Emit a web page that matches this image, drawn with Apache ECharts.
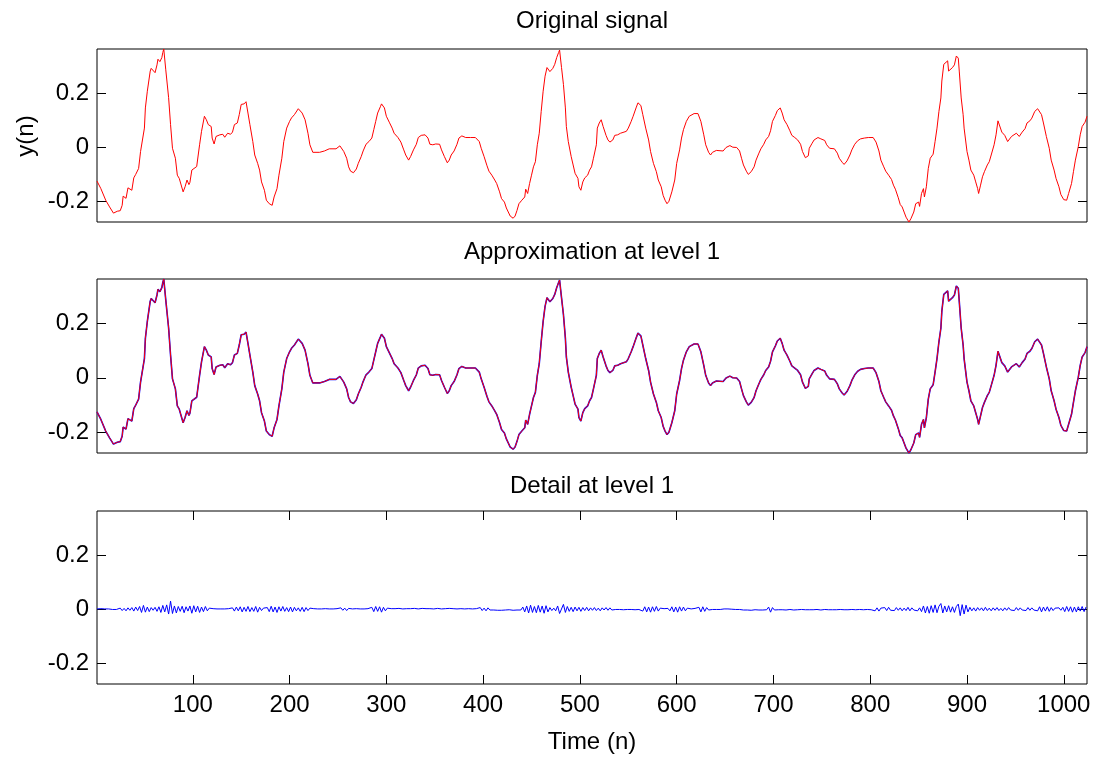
<!DOCTYPE html>
<html>
<head>
<meta charset="utf-8">
<title>Wavelet decomposition</title>
<script src="https://cdn.jsdelivr.net/npm/echarts@6/dist/echarts.min.js"></script>
<style>
  html, body { margin: 0; padding: 0; background: #fff; }
  #chart { width: 1098px; height: 759px; }
</style>
</head>
<body>
<div id="chart"></div>
<script>
// readings of the original signal: [sample n, y(n)]
const originalSignal = [
  [1,-0.126],[5,-0.154],[10,-0.197],[14,-0.222],[18,-0.245],[22,-0.238],[25,-0.236],[27,-0.216],[28,-0.182],[30,-0.188],
  [31,-0.19],[33,-0.151],[35,-0.144],[37,-0.16],[39,-0.114],[41,-0.101],[42,-0.101],[44,-0.079],[46,-0.016],[50,0.071],
  [51,0.146],[53,0.208],[56,0.283],[57,0.293],[59,0.292],[61,0.277],[63,0.306],[64,0.327],[66,0.318],[68,0.333],
  [69,0.352],[70,0.365],[72,0.29],[75,0.184],[77,0.084],[79,-0.004],[82,-0.041],[84,-0.104],[86,-0.116],[88,-0.122],
  [90,-0.166],[92,-0.147],[94,-0.122],[96,-0.139],[97,-0.131],[99,-0.085],[101,-0.079],[104,-0.072],[107,0.009],[109,0.059],
  [112,0.115],[114,0.102],[116,0.084],[119,0.077],[120,0.034],[122,0.012],[124,0.04],[126,0.043],[128,0.046],[131,0.048],
  [133,0.037],[136,0.052],[139,0.048],[141,0.056],[143,0.084],[146,0.09],[148,0.121],[150,0.159],[153,0.161],[155,0.169],
  [157,0.127],[159,0.084],[162,0.021],[164,-0.029],[167,-0.06],[169,-0.085],[171,-0.129],[174,-0.16],[176,-0.197],[179,-0.21],
  [182,-0.216],[184,-0.185],[187,-0.154],[189,-0.104],[192,-0.041],[194,0.021],[197,0.071],[200,0.096],[202,0.109],[205,0.121],
  [209,0.143],[213,0.127],[216,0.102],[219,0.052],[221,0.009],[224,-0.019],[226,-0.026],[231,-0.019],[236,-0.014],[241,-0.006],
  [248,-0.006],[252,0.005],[256,-0.016],[259,-0.041],[261,-0.073],[263,-0.089],[266,-0.095],[269,-0.081],[271,-0.06],[274,-0.035],
  [276,-0.014],[279,0.011],[282,0.021],[285,0.034],[287,0.065],[289,0.096],[291,0.127],[294,0.152],[295,0.161],[298,0.146],
  [300,0.115],[303,0.093],[306,0.071],[308,0.052],[312,0.036],[315,0.019],[318,-0.01],[320,-0.029],[323,-0.048],[325,-0.035],
  [328,-0.01],[331,0.011],[333,0.036],[336,0.044],[340,0.046],[343,0.034],[345,0.011],[348,0.009],[351,0.012],[355,0.011],
  [357,-0.01],[360,-0.035],[363,-0.058],[365,-0.048],[367,-0.029],[370,-0.014],[373,0.011],[375,0.034],[378,0.042],[382,0.036],
  [387,0.036],[389,0.042],[392,0.036],[394,0.039],[396,0.021],[398,-0.004],[401,-0.035],[404,-0.069],[406,-0.089],[409,-0.104],
  [412,-0.122],[414,-0.135],[417,-0.166],[419,-0.191],[422,-0.204],[424,-0.226],[426,-0.228],[428,-0.256],[431,-0.264],[433,-0.256],
  [435,-0.235],[437,-0.21],[440,-0.197],[443,-0.185],[444,-0.156],[446,-0.172],[448,-0.135],[450,-0.104],[452,-0.073],[454,-0.054],
  [456,0.009],[458,0.052],[460,0.133],[462,0.208],[464,0.264],[466,0.296],[468,0.298],[469,0.281],[472,0.293],[474,0.308],
  [476,0.333],[478,0.352],[479,0.361],[481,0.296],[483,0.233],[485,0.146],[486,0.077],[488,0.021],[491,-0.035],[493,-0.066],
  [495,-0.097],[498,-0.116],[499,-0.147],[501,-0.16],[503,-0.129],[505,-0.114],[508,-0.104],[510,-0.085],[512,-0.073],[514,-0.041],
  [517,0.009],[518,0.071],[520,0.09],[522,0.102],[524,0.077],[527,0.044],[529,0.027],[531,0.019],[534,0.027],[536,0.044],
  [539,0.046],[542,0.052],[544,0.049],[548,0.059],[550,0.071],[553,0.096],[555,0.115],[558,0.146],[560,0.165],[563,0.155],
  [565,0.121],[568,0.071],[571,0.027],[573,-0.016],[576,-0.06],[579,-0.091],[581,-0.122],[584,-0.147],[586,-0.179],[588,-0.197],
  [590,-0.21],[592,-0.201],[595,-0.166],[598,-0.122],[600,-0.06],[603,-0.01],[605,0.034],[607,0.065],[610,0.096],[613,0.115],
  [618,0.125],[622,0.125],[625,0.096],[628,0.046],[630,0.009],[633,-0.019],[635,-0.029],[637,-0.019],[641,-0.012],[648,-0.014],
  [651,-0.001],[655,0.006],[658,0],[662,-0.001],[665,-0.014],[667,-0.041],[669,-0.066],[672,-0.089],[674,-0.101],[677,-0.091],
  [680,-0.073],[682,-0.048],[685,-0.022],[687,-0.006],[690,0.011],[692,0.027],[695,0.04],[697,0.061],[699,0.096],[702,0.118],
  [704,0.136],[706,0.14],[707,0.146],[709,0.127],[711,0.102],[714,0.084],[717,0.061],[719,0.044],[722,0.036],[725,0.027],
  [728,0.011],[730,-0.016],[733,-0.039],[736,-0.032],[737,-0.004],[740,0.015],[742,0.027],[746,0.036],[749,0.031],[753,0.025],
  [755,0.009],[758,-0.004],[760,-0.001],[763,-0.006],[766,-0.022],[768,-0.041],[771,-0.056],[773,-0.064],[776,-0.051],[779,-0.029],
  [781,-0.01],[784,0.011],[787,0.024],[790,0.031],[794,0.034],[798,0.036],[800,0.042],[803,0.036],[806,0.019],[809,-0.014],
  [811,-0.048],[814,-0.073],[816,-0.089],[819,-0.104],[822,-0.12],[824,-0.141],[826,-0.156],[829,-0.188],[831,-0.213],[833,-0.222],
  [835,-0.241],[837,-0.26],[840,-0.278],[842,-0.266],[845,-0.241],[847,-0.21],[850,-0.204],[851,-0.22],[853,-0.172],[855,-0.154],
  [856,-0.185],[858,-0.147],[860,-0.079],[862,-0.041],[865,-0.026],[867,0.021],[869,0.071],[871,0.133],[873,0.183],[874,0.246],
  [876,0.308],[878,0.314],[880,0.321],[881,0.283],[883,0.287],[885,0.296],[887,0.306],[889,0.339],[891,0.331],[892,0.283],
  [894,0.183],[896,0.121],[897,0.071],[900,-0.016],[902,-0.048],[904,-0.085],[907,-0.104],[909,-0.129],[911,-0.154],[912,-0.172],
  [914,-0.141],[916,-0.11],[918,-0.091],[921,-0.066],[923,-0.054],[925,-0.029],[928,0.009],[930,0.046],[932,0.098],[934,0.093],
  [936,0.056],[939,0.044],[942,0.021],[944,0.027],[946,0.04],[948,0.044],[951,0.052],[954,0.04],[955,0.036],[957,0.056],
  [960,0.069],[962,0.09],[965,0.098],[967,0.108],[970,0.133],[973,0.143],[975,0.143],[977,0.121],[979,0.09],[982,0.04],
  [985,-0.004],[987,-0.048],[990,-0.085],[992,-0.116],[995,-0.147],[997,-0.176],[1000,-0.195],[1003,-0.197],[1005,-0.172],[1008,-0.135],
  [1010,-0.091],[1012,-0.048],[1015,0.002],[1017,0.046],[1019,0.077],[1022,0.093],[1024,0.115]
];

// the level-1 approximation lies on the original within reading accuracy
const approxLevel1 = originalSignal;

// detail at level 1, read every 2nd sample starting at n = 1
const detailStart = 1;
const detailStep = 2;
const detailLevel1 = [
  0.001,-0.001,0.002,-0.001,0.001,-0.002,0.001,0.000,-0.001,0.002,-0.001,0.001,0.004,-0.005,0.003,-0.006,
  0.005,-0.004,0.006,-0.007,0.008,-0.005,0.010,-0.012,0.014,-0.011,0.008,-0.009,0.006,-0.004,0.007,-0.008,
  0.009,-0.012,0.014,-0.010,0.016,-0.018,0.030,-0.016,0.012,-0.014,0.010,-0.008,0.011,-0.013,0.009,-0.007,
  0.012,-0.015,0.013,-0.010,0.011,-0.012,0.008,-0.009,0.010,-0.006,0.004,-0.003,0.002,-0.001,0.001,-0.001,
  0.001,-0.002,0.001,-0.001,0.002,-0.004,0.005,-0.007,0.008,-0.006,0.009,-0.010,0.007,-0.008,0.010,-0.009,
  0.006,-0.008,0.010,-0.011,0.007,-0.005,0.004,-0.003,0.006,-0.009,0.011,-0.010,0.008,-0.012,0.009,-0.007,
  0.010,-0.008,0.006,-0.009,0.008,-0.010,0.007,-0.006,0.005,-0.008,0.007,-0.009,0.006,-0.005,0.004,-0.003,
  0.002,-0.001,0.001,-0.002,0.001,-0.001,0.002,-0.001,0.001,-0.002,0.001,-0.001,0.002,-0.003,0.005,-0.004,
  0.004,-0.005,0.003,-0.002,0.001,-0.001,0.002,-0.001,0.001,-0.002,0.001,-0.001,0.002,-0.004,0.007,-0.009,
  0.010,-0.008,0.009,-0.011,0.007,-0.006,0.004,-0.003,0.002,-0.003,0.002,-0.001,0.003,-0.002,0.001,-0.002,
  0.002,-0.003,0.002,-0.001,0.003,-0.002,0.001,-0.002,0.003,-0.002,0.002,-0.001,0.002,-0.003,0.001,-0.002,
  0.003,-0.002,0.001,-0.002,0.002,-0.001,0.003,-0.002,0.002,-0.003,0.001,-0.001,0.002,-0.002,0.001,-0.002,
  0.002,-0.001,0.001,-0.002,0.002,-0.003,0.006,-0.005,0.004,-0.006,0.005,-0.003,0.004,-0.003,0.002,-0.004,
  0.003,-0.004,0.002,-0.003,0.004,-0.002,0.003,-0.004,0.002,-0.003,0.004,-0.003,0.008,-0.010,0.012,-0.014,
  0.015,-0.012,0.010,-0.013,0.014,-0.011,0.012,-0.015,0.013,-0.010,0.006,-0.005,0.004,-0.006,0.012,-0.016,
  -0.021,0.018,-0.012,0.010,-0.008,0.007,-0.009,0.008,-0.006,0.007,-0.008,0.006,-0.005,0.007,-0.006,0.005,
  -0.004,0.006,-0.005,0.004,-0.006,0.005,-0.003,0.006,-0.004,0.005,-0.003,0.002,-0.001,0.002,-0.001,0.001,
  -0.002,0.001,-0.001,0.002,-0.001,0.001,-0.002,0.001,-0.001,0.004,-0.007,0.009,-0.010,0.008,-0.011,0.009,
  -0.008,0.010,-0.007,0.004,-0.003,0.002,-0.004,0.003,-0.006,0.009,-0.010,0.008,-0.011,0.009,-0.007,0.008,
  -0.006,0.004,-0.002,0.001,-0.002,0.003,-0.002,0.007,-0.010,0.009,-0.008,0.006,-0.003,0.002,-0.001,0.001,
  -0.001,0.001,-0.001,0.000,0.001,-0.001,0.001,-0.001,0.000,0.001,-0.001,0.001,-0.001,0.002,-0.003,0.004,
  -0.003,0.002,-0.004,0.003,-0.002,0.004,-0.003,0.002,-0.003,0.004,-0.002,0.008,-0.011,0.006,-0.003,0.002,
  -0.002,0.003,-0.002,0.001,-0.003,0.002,-0.001,0.002,-0.003,0.002,-0.002,0.003,-0.001,0.002,-0.002,0.001,
  -0.002,0.003,-0.002,0.002,-0.001,0.002,-0.003,0.002,-0.001,0.002,-0.002,0.001,-0.002,0.003,-0.002,0.001,
  -0.001,0.002,-0.002,0.001,-0.002,0.002,-0.001,0.002,-0.002,0.001,-0.001,0.002,-0.002,0.001,-0.001,0.002,
  -0.002,0.004,-0.006,0.005,-0.007,0.004,-0.003,0.006,-0.005,0.007,-0.004,0.003,-0.005,0.006,-0.004,0.005,
  -0.006,0.004,-0.005,0.007,-0.006,0.005,-0.003,0.004,-0.006,0.005,-0.009,0.012,-0.014,0.010,-0.015,0.013,
  -0.012,0.016,-0.013,0.011,0.021,-0.014,0.012,-0.010,0.013,-0.011,0.009,-0.012,0.010,0.019,-0.024,0.017,
  -0.018,0.015,-0.010,0.007,-0.006,0.005,-0.007,0.006,-0.004,0.005,-0.006,0.007,-0.005,0.004,-0.006,0.005,
  -0.004,0.006,-0.005,0.003,-0.006,0.005,-0.004,0.006,-0.003,0.004,-0.005,0.006,-0.004,0.005,-0.003,0.004,
  -0.005,0.006,-0.004,0.005,-0.003,0.002,-0.006,0.009,-0.010,0.008,-0.007,0.009,-0.008,0.006,-0.005,0.004,
  -0.003,0.005,-0.004,0.007,-0.009,0.010,-0.008,0.009,-0.011,0.008,-0.010,0.009,-0.007,0.010,-0.009,0.008
];

const xTicks = [100, 200, 300, 400, 500, 600, 700, 800, 900, 1000];
const yTicks = [-0.2, 0, 0.2];
const panelTitles = ['Original signal', 'Approximation at level 1', 'Detail at level 1'];
const xName = 'Time (n)';
const yName = 'y(n)';

const FONT = "'Liberation Sans', Arial, Helvetica, sans-serif";
const FS = 24;
const X_MIN = 1, X_MAX = 1024;
const Y_MIN = -0.278, Y_MAX = 0.365;

const chart = echarts.init(document.getElementById('chart'), null, { renderer: 'canvas' });

const grids = [
  { left: 97, right: 11, top: 49, height: 173 },
  { left: 97, right: 11, top: 279, height: 174 },
  { left: 97, right: 11, top: 511, height: 173 }
].map(g => Object.assign(g, { show: true, borderColor: '#000', borderWidth: 1, backgroundColor: '#fff' }));

const tickStyle = { color: '#000', width: 1 };

const makeX = (i, withTicks, pos) => ({
  type: 'value', gridIndex: i, min: X_MIN, max: X_MAX, position: pos || 'bottom',
  axisLine: { show: false, onZero: false },
  splitLine: { show: false },
  axisTick: { show: withTicks, inside: true, length: 9, lineStyle: tickStyle, customValues: xTicks },
  axisLabel: {
    show: withTicks && pos !== 'top', customValues: xTicks, margin: 9,
    color: '#000', fontFamily: FONT, fontSize: FS,
    formatter: v => String(v)
  }
});

const makeY = (i, pos) => ({
  type: 'value', gridIndex: i, min: Y_MIN, max: Y_MAX, position: pos,
  axisLine: { show: false, onZero: false },
  splitLine: { show: false },
  axisTick: { show: true, inside: true, length: 9, lineStyle: tickStyle, customValues: yTicks },
  axisLabel: {
    show: pos === 'left', customValues: yTicks, margin: 8,
    color: '#000', fontFamily: FONT, fontSize: FS,
    formatter: v => String(Math.round(v * 10) / 10)
  }
});

const lineSeries = (name, xi, data, color, width, z) => ({
  name, type: 'line', xAxisIndex: xi, yAxisIndex: xi, data,
  showSymbol: false, symbol: 'none', animation: false, silent: true, z,
  lineStyle: { color, width }
});

const textEl = (text, x, y, rotation) => ({
  type: 'text', x, y, rotation: rotation || 0, silent: true,
  style: { text, fill: '#000', font: FS + 'px ' + FONT, textAlign: 'center', textVerticalAlign: 'middle' }
});

const option = {
  backgroundColor: '#fff',
  animation: false,
  grid: grids,
  xAxis: [makeX(0, false), makeX(1, false), makeX(2, true), makeX(2, true, 'top')],
  yAxis: [makeY(0, 'left'), makeY(1, 'left'), makeY(2, 'left'),
          makeY(0, 'right'), makeY(1, 'right'), makeY(2, 'right')],
  series: [
    lineSeries('Original signal', 0, originalSignal, '#ff0000', 1, 2),
    lineSeries('Approximation', 1, approxLevel1, '#0000ff', 1.6, 2),
    lineSeries('Original (overlay)', 1, originalSignal, '#ff0000', 1, 3),
    lineSeries('Detail', 2, detailLevel1.map((v, i) => [detailStart + detailStep * i, v]), '#0000ff', 1, 2)
  ],
  graphic: [
    textEl(panelTitles[0], 592, 21),
    textEl(panelTitles[1], 592, 252),
    textEl(panelTitles[2], 592, 486),
    textEl(xName, 592, 742),
    textEl(yName, 26, 136, Math.PI / 2)
  ]
};

chart.setOption(option);
</script>
</body>
</html>
